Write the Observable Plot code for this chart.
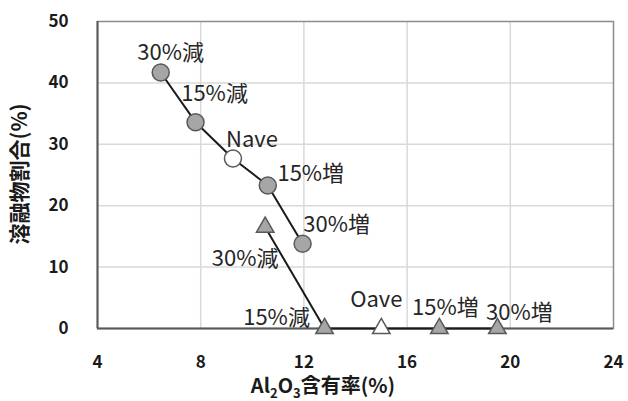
<!DOCTYPE html>
<html>
<head>
<meta charset="utf-8">
<script src="https://cdn.jsdelivr.net/npm/d3@7"></script>
<script src="https://cdn.jsdelivr.net/npm/@observablehq/plot@0.6"></script>
<style>
  html, body { margin: 0; padding: 0; background: #fff; }
  #chart svg { display: block; }
</style>
</head>
<body>
<div id="chart"></div>
<script>
// Melt fraction vs. Al2O3 content, two composition series
const xTicks = [4, 8, 12, 16, 20, 24];
const yTicks = [0, 10, 20, 30, 40, 50];

// N series (circles)
const nLabels = ["30%減", "15%減", "Nave", "15%増", "30%増"];
const nAl2O3 = [6.45, 7.8, 9.25, 10.6, 11.95];
const nMelt = [41.7, 33.6, 27.7, 23.3, 13.8];

// O series (triangles)
const oLabels = ["30%減", "15%減", "Oave", "15%増", "30%増"];
const oAl2O3 = [10.5, 12.8, 15.0, 17.25, 19.5];
const oMelt = [16.5, 0, 0, 0, 0];

// label placement relative to each marker (px)
const nLabelShift = [[10, -20], [19, -28], [19, -18], [43, -11], [34, -19]];
const oLabelShift = [[-20, 32], [-48, -11], [-5, -29], [6, -21], [22, -16]];

const nRows = nLabels.map((label, i) => ({label, x: nAl2O3[i], y: nMelt[i], dx: nLabelShift[i][0], dy: nLabelShift[i][1], avg: label === "Nave"}));
const oRows = oLabels.map((label, i) => ({label, x: oAl2O3[i], y: oMelt[i], dx: oLabelShift[i][0], dy: oLabelShift[i][1], avg: label === "Oave"}));

const font = "'Noto Sans CJK JP', 'Noto Sans', sans-serif";
const markerFill = d => d.avg ? "#ffffff" : "#a6a6a6";

const labelMarks = rows => rows.map(d => Plot.text([d], {
  x: "x", y: "y", text: "label", dx: d.dx, dy: d.dy,
  fontSize: 22, fill: "#262626", textAnchor: "middle", fontFamily: font
}));

const chart = Plot.plot({
  width: 628,
  height: 401,
  marginLeft: 97,
  marginRight: 15,
  marginTop: 21,
  marginBottom: 73,
  style: {fontFamily: font, background: "#fff"},
  color: {type: "identity"},
  x: {domain: [4, 24]},
  y: {domain: [0, 50]},
  marks: [
    Plot.gridX(xTicks.slice(1, -1), {stroke: "#d9d9d9", strokeOpacity: 1, strokeWidth: 1.5}),
    Plot.gridY(yTicks.slice(1, -1), {stroke: "#d9d9d9", strokeOpacity: 1, strokeWidth: 1.5}),
    Plot.frame({stroke: "#8c8c8c", strokeWidth: 1.5}),
    Plot.ruleX([4], {stroke: "#595959", strokeWidth: 2}),
    Plot.ruleY([0], {stroke: "#595959", strokeWidth: 2}),
    Plot.axisX(xTicks, {tickSize: 0, tickPadding: 27, fontSize: 17, fontWeight: "bold", fill: "#1a1a1a", label: null}),
    Plot.axisY(yTicks, {tickSize: 0, tickPadding: 29, fontSize: 17, fontWeight: "bold", fill: "#1a1a1a", label: null}),
    Plot.line(nRows, {x: "x", y: "y", stroke: "#1a1a1a", strokeWidth: 2}),
    Plot.line(oRows, {x: "x", y: "y", stroke: "#1a1a1a", strokeWidth: 2}),
    Plot.dot(nRows, {x: "x", y: "y", r: 8.5, fill: markerFill, stroke: "#595959", strokeWidth: 1.5}),
    Plot.dot(oRows, {x: "x", y: "y", r: 6.5, symbol: "triangle", fill: markerFill, stroke: "#595959", strokeWidth: 1.5}),
    ...labelMarks(nRows),
    ...labelMarks(oRows)
  ]
});

// axis titles (with subscripts on the x title)
const svg = d3.select(chart);
const xTitle = svg.append("text")
  .attr("x", 323).attr("y", 393)
  .attr("text-anchor", "middle")
  .attr("font-family", font).attr("font-size", 20).attr("font-weight", "bold")
  .attr("fill", "#1a1a1a");
xTitle.append("tspan").text("Al");
xTitle.append("tspan").attr("font-size", 13).attr("dy", 5).text("2");
xTitle.append("tspan").attr("dy", -5).text("O");
xTitle.append("tspan").attr("font-size", 13).attr("dy", 5).text("3");
xTitle.append("tspan").attr("dy", -5).text("含有率(%)");

svg.append("text")
  .attr("transform", "translate(27,174) rotate(-90)")
  .attr("text-anchor", "middle")
  .attr("font-family", font).attr("font-size", 21).attr("font-weight", "bold")
  .attr("fill", "#1a1a1a")
  .text("溶融物割合(%)");

document.getElementById("chart").appendChild(chart);
</script>
</body>
</html>
